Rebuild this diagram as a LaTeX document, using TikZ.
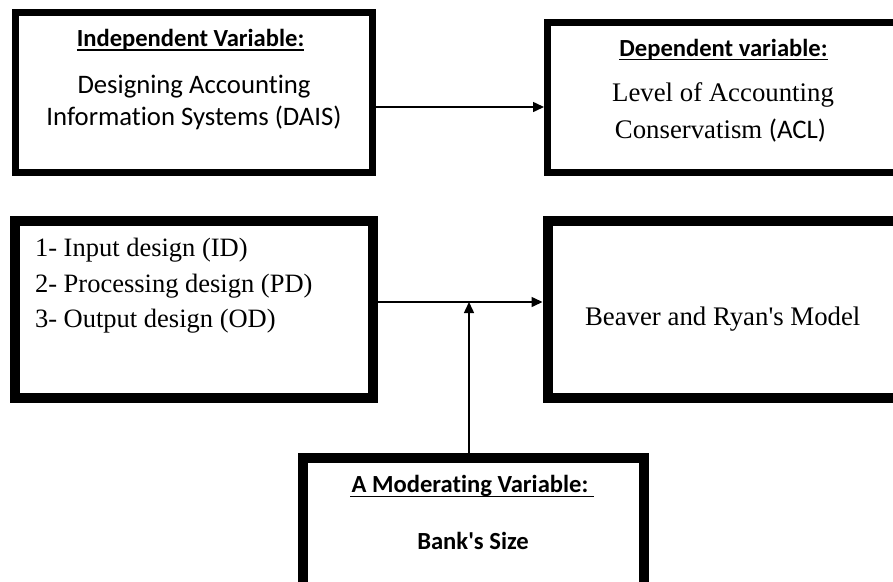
\documentclass[tikz,border=0pt]{standalone}
\usepackage{fontspec}
\setmainfont{Liberation Serif}
\newfontfamily\calfont[Ligatures=NoCommon]{Carlito}
\usetikzlibrary{arrows.meta}
\tikzset{
  boxA/.style={draw=black, line width=7pt, outer sep=3.5pt, inner sep=0pt},
  boxB/.style={draw=black, line width=10pt, outer sep=5pt, inner sep=0pt},
  ttl/.style={inner sep=0pt, outer sep=0pt, font=\calfont\bfseries\fontsize{24.6}{30}\selectfont},
  cal/.style={inner sep=0pt, outer sep=0pt, font=\calfont\fontsize{26.7}{32}\selectfont},
  ser/.style={inner sep=0pt, outer sep=0pt, font=\fontsize{26.8}{32}\selectfont},
  lst/.style={inner sep=0pt, outer sep=0pt, anchor=base west, font=\fontsize{26.5}{32}\selectfont},
  ul/.style={line width=1.6pt},
  arr/.style={line width=1.5pt, -{Triangle[length=11pt,width=10pt]}}
}
\begin{document}
\begin{tikzpicture}[x=1pt,y=-1pt]
\useasboundingbox (0,0) rectangle (893,581);
% boxes
\node[boxA, minimum width=357pt, minimum height=160pt] (box1) at (194,92.5) {};
\node[boxA, minimum width=352.5pt, minimum height=150pt] (box2) at (723.75,97.5) {};
\node[boxB, minimum width=357.5pt, minimum height=177pt] (box3) at (193.75,309.5) {};
\node[boxB, minimum width=352.5pt, minimum height=177pt] (box4) at (723.75,309.5) {};
\node[boxB, minimum width=341.3pt, minimum height=131.7pt] (box5) at (473.35,524.15) {};
% connectors
\draw[arr] ([yshift=-14.5pt]box1.east) -- ([yshift=-9.5pt]box2.west);
\coordinate (m) at ([yshift=7.5pt]box3.east);
\draw[arr] (m) -- (m -| box4.west);
\coordinate (j) at (469,302);
\draw[arr] (box5.north -| j) -- (j);
% box 1 texts
\node[ttl, anchor=base] (t1) at (190.5,46) {Independent Variable:};
\draw[ul] ([yshift=-4pt]t1.base west) -- ([yshift=-4pt]t1.base east);
\node[cal, anchor=base] (t1b) at (194,93) {Designing Accounting};
\node[cal, anchor=base] (t1c) at (194,125) {Information Systems (DAIS)};
% box 2 texts
\node[ttl, anchor=base] (t2) at (723.5,56) {Dependent variable:};
\draw[ul] ([yshift=-3.5pt]t2.base west) -- ([yshift=-3.5pt]t2.base east);
\node[ser, anchor=base] (t2b) at (723,101.7) {Level of Accounting};
\node[ser, anchor=base] (t2c) at (720.5,138) {Conservatism {\calfont(ACL)}};
% box 3 texts
\node[lst] (l1) at (35,256.7) {1- Input design (ID)};
\node[lst] (l2) at (35,292) {2- Processing design (PD)};
\node[lst] (l3) at (35,327.5) {3- Output design (OD)};
% box 4 text
\node[ser, anchor=base west] (t4) at (585,325) {Beaver and Ryan\textquotesingle s Model};
% box 5 texts
\node[ttl, anchor=base west] (t5) at (351.7,492.7) {A Moderating Variable:};
\draw[ul] ([yshift=-3.8pt,xshift=-1.5pt]t5.base west) -- ([yshift=-3.8pt,xshift=6pt]t5.base east);
\node[ttl, anchor=base] (t5b) at (473,549.3) {Bank\textquotesingle s Size};
\end{tikzpicture}
\end{document}
